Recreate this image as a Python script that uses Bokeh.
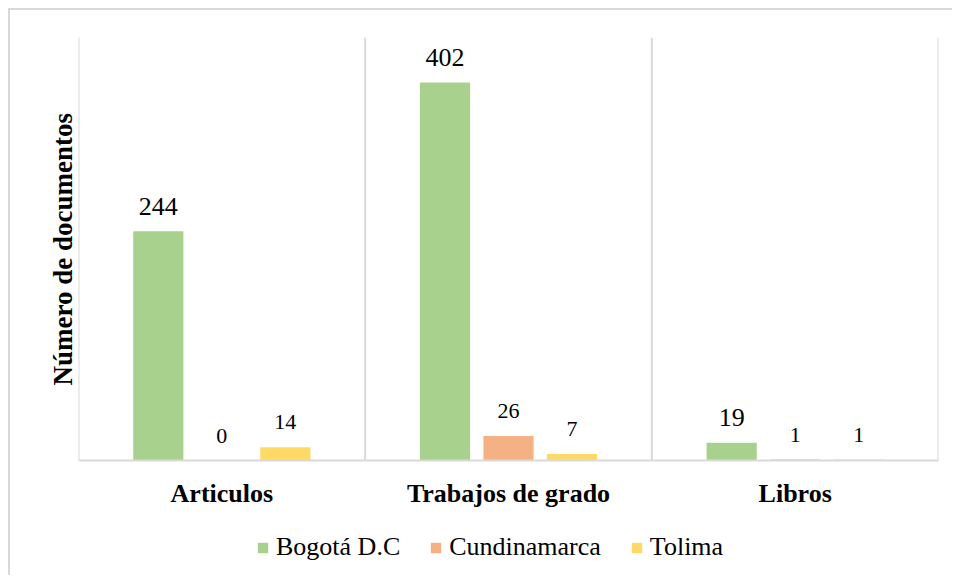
from bokeh.plotting import figure
from bokeh.models import Legend, LegendItem, ColumnDataSource, Range1d, Span, Title
from bokeh.transform import dodge
from bokeh.embed import file_html
from bokeh.resources import INLINE
from bokeh.core.properties import value

categories = ["Articulos", "Trabajos de grado", "Libros"]
series = ["Bogotá D.C", "Cundinamarca", "Tolima"]
bogota = [244, 402, 19]
cundinamarca = [0, 26, 1]
tolima = [14, 7, 1]
colors = ["#A9D18E", "#F4B183", "#FFD966"]
y_title = "Número de documentos"

FONT = "Liberation Serif"
GRID = "#d9d9d9"
Y_MAX = 450

# layout (pixels)
W, H = 944, 567
TOP, LEFT, RIGHT = 27, 68, 16
PLOT_H = 423                     # height of the value area (0..Y_MAX)
BELOW = H - TOP - PLOT_H         # space under the baseline for labels and legend
y_min = -Y_MAX * BELOW / PLOT_H  # frame extends below the baseline

n = len(categories)
cat_pos = [i + 0.5 for i in range(n)]
bounds = list(range(n + 1))

source = ColumnDataSource(dict(
    x=cat_pos,
    bogota=bogota, cundinamarca=cundinamarca, tolima=tolima,
    bogota_t=[str(v) for v in bogota],
    cundinamarca_t=[str(v) for v in cundinamarca],
    tolima_t=[str(v) for v in tolima],
))
cat_source = ColumnDataSource(dict(x=cat_pos, y=[0] * n, text=categories))
sep_source = ColumnDataSource(dict(x=bounds, y0=[0] * len(bounds), y1=[Y_MAX] * len(bounds)))

p = figure(width=W, height=H,
           x_range=Range1d(0, n), y_range=Range1d(y_min, Y_MAX),
           output_backend="svg", toolbar_location=None,
           x_axis_location=None, y_axis_location=None,
           min_border_left=LEFT, min_border_right=RIGHT,
           min_border_top=TOP, min_border_bottom=0,
           styles={"border-left": "2px solid #d9d9d9", "border-top": "2px solid #d9d9d9",
                   "margin-left": "8px", "margin-top": "8px"})

p.outline_line_color = None
p.background_fill_color = "white"
p.border_fill_color = "white"
p.grid.visible = False

# category separators and baseline
p.segment(x0="x", y0="y0", x1="x", y1="y1", source=sep_source,
          line_color=GRID, line_width=2)
p.add_layout(Span(location=0, dimension="width", line_color=GRID, line_width=2))

keys = ["bogota", "cundinamarca", "tolima"]
offsets = [-0.2215, 0.0, 0.2215]
label_sizes = ["26px", "22px", "22px"]
renderers = []
for key, off, col, fs in zip(keys, offsets, colors, label_sizes):
    r = p.vbar(x=dodge("x", off, range=p.x_range), top=key, width=0.175,
               bottom=0, source=source, fill_color=col, line_color=None)
    renderers.append(r)
    p.text(x=dodge("x", off, range=p.x_range), y=key, text=key + "_t",
           source=source, text_align="center", text_baseline="alphabetic",
           y_offset=-25, text_font=value(FONT), text_font_size=fs,
           text_color="black")

# category labels under the baseline
p.text(x="x", y="y", text="text", source=cat_source,
       text_align="center", text_baseline="alphabetic", y_offset=33,
       text_font=value(FONT), text_font_size="26px", text_font_style="bold",
       text_color="black")

# vertical title, placed over the value area (0..Y_MAX)
p.add_layout(Title(text=y_title, align="left", offset=BELOW + 75, standoff=2,
                   text_font=FONT, text_font_size="27px", text_font_style="bold",
                   text_color="black"), "left")

legend = Legend(items=[LegendItem(label=s, renderers=[r]) for s, r in zip(series, renderers)],
                orientation="horizontal", location=(178, 15))
legend.label_text_font = FONT
legend.label_text_font_size = "26px"
legend.label_text_color = "black"
legend.glyph_width = 13
legend.glyph_height = 13
legend.label_standoff = 7
legend.spacing = 29
legend.padding = 0
legend.margin = 0
legend.border_line_color = None
legend.background_fill_alpha = 0
p.add_layout(legend)

open("out.html", "w").write(file_html(p, INLINE))
